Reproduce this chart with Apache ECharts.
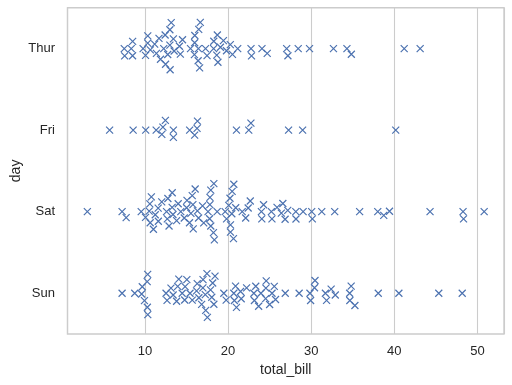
<!DOCTYPE html>
<html><head><meta charset="utf-8">
<script src="https://cdn.jsdelivr.net/npm/echarts@6/dist/echarts.min.js"></script>
<style>html,body{margin:0;padding:0;background:#fff}#c{width:512px;height:385px}</style>
</head><body><div id="c"></div>
<script>
// categories (y axis)
const days = ['Thur', 'Fri', 'Sat', 'Sun'];
// total_bill values per day
const thurBills = [27.20, 22.76, 17.29, 19.44, 16.66, 10.07, 32.68, 15.98, 34.83, 13.03, 18.28, 24.71, 21.16,
  10.65, 12.43, 24.08, 11.69, 13.42, 14.26, 15.95, 12.48, 29.80, 8.52, 14.52, 11.38, 22.82, 19.08, 20.27, 11.17,
  12.26, 18.26, 8.51, 10.33, 14.15, 16.00, 13.16, 17.47, 34.30, 41.19, 27.05, 16.43, 8.35, 18.64, 11.87, 9.78, 7.51,
  19.81, 28.44, 15.48, 16.58, 7.56, 10.34, 43.11, 13.00, 13.51, 18.71, 12.74, 13.00, 16.40, 20.53, 16.47, 18.78];
const friBills = [28.97, 22.49, 5.75, 16.32, 22.75, 40.17, 27.28, 12.03, 21.01, 12.46, 11.35, 15.38,
  12.16, 13.42, 8.58, 15.98, 13.42, 16.27, 10.09];
const satBills = [20.65, 17.92, 20.29, 15.77, 39.42, 19.82, 17.81, 13.37, 12.69, 21.70, 19.65, 9.55, 18.35, 15.06,
  20.69, 17.78, 24.06, 16.31, 16.93, 18.69, 31.27, 16.04,
  38.01, 26.41, 11.24, 48.27, 20.29, 13.81, 11.02, 18.29, 17.59, 20.08, 16.45, 3.07, 20.23, 15.01, 12.02, 17.07,
  26.86, 25.28, 14.73, 10.51, 17.92,
  44.30, 22.42, 20.92, 15.36, 20.49, 25.21, 18.24, 14.31, 14.00, 7.25,
  10.59, 10.63, 50.81, 15.81,
  26.59, 38.73, 24.27, 12.76, 30.06, 25.89, 48.33, 13.27, 28.17, 12.90, 28.15, 11.59, 7.74, 30.14,
  20.45, 13.28, 22.12, 24.01, 15.69, 11.61, 10.77, 15.53, 10.07, 12.60, 32.83, 35.83, 29.03, 27.18, 22.67, 17.82];
const sunBills = [16.99, 10.34, 21.01, 23.68, 24.59, 25.29, 8.77, 26.88, 15.04, 14.78, 10.27, 35.26, 15.42, 18.43,
  14.83, 21.58, 10.33, 16.29, 16.97,
  17.46, 13.94, 9.68, 30.40, 18.29, 22.23, 32.40, 28.55, 18.04, 12.54, 10.29, 34.81, 9.94, 25.56, 19.49,
  38.07, 23.95, 25.71, 17.31, 29.93,
  14.07, 13.13, 17.26, 24.55, 19.77, 29.85, 48.17, 25.00, 13.39, 16.49, 21.50, 12.66, 16.21, 13.81, 17.51, 24.52,
  20.76, 31.71,
  7.25, 31.85, 16.82, 32.90, 17.89, 14.48, 9.60, 34.63, 34.65, 23.33, 45.35, 23.17, 40.55, 20.69, 20.90, 30.46,
  18.15, 23.10, 15.69];
const billsByDay = [thurBills, friBills, satBills, sunBills];
const xTickLabels = [10, 20, 30, 40, 50];

const TEXT = '#262626', GRID = '#cccccc', BLUE = '#4C72B0';
const FONT = '"Liberation Sans", Arial, sans-serif';
const chart = echarts.init(document.getElementById('c'), null, {renderer: 'canvas'});

const base = {
  animation: false,
  backgroundColor: '#ffffff',
  grid: {left: 67.5, right: 8, top: 7.8, bottom: 51, show: true, borderColor: GRID, borderWidth: 1.4,
    backgroundColor: 'transparent', containLabel: false, outerBoundsMode: 'none'},
  xAxis: {
    type: 'value', min: 0.683, max: 53.197, minInterval: 10, maxInterval: 10,
    name: 'total_bill', nameLocation: 'middle', nameGap: 29.5, nameMoveOverlap: false,
    nameTextStyle: {color: TEXT, fontSize: 14, fontFamily: FONT},
    axisLine: {show: false}, axisTick: {show: false},
    axisLabel: {color: TEXT, fontSize: 13, fontFamily: FONT, margin: 11, showMinLabel: false, showMaxLabel: false,
      formatter: v => (xTickLabels.indexOf(Math.round(v)) >= 0 && Math.abs(v - Math.round(v)) < 1e-6) ? String(Math.round(v)) : ''},
    splitLine: {show: true, lineStyle: {color: GRID, width: 1.1}}
  },
  yAxis: [{
    type: 'category', data: days, inverse: true, boundaryGap: true,
    name: 'day', nameLocation: 'middle', nameGap: 44, nameMoveOverlap: false,
    nameTextStyle: {color: TEXT, fontSize: 14, fontFamily: FONT},
    axisLine: {show: false}, axisTick: {show: false}, splitLine: {show: false},
    axisLabel: {color: TEXT, fontSize: 13, fontFamily: FONT, margin: 12.5}
  }, {
    type: 'value', min: -0.5, max: 3.5, inverse: true, show: false, splitLine: {show: false}
  }],
  series: []
};
chart.setOption(base);

// swarm layout (seaborn Beeswarm algorithm) in pixel space
const R = 3.47;
function beeswarm(pts) {
  const mid = pts[0].u;
  const swarm = [pts[0]];
  for (let k = 1; k < pts.length; k++) {
    const p = pts[k];
    const neighbors = [];
    for (let j = swarm.length - 1; j >= 0; j--) {
      const q = swarm[j];
      if (p.v - q.v < p.r + q.r) neighbors.push(q); else break;
    }
    const cands = [{u: p.u}];
    let leftFirst = true;
    for (const q of neighbors) {
      const dy = p.v - q.v;
      const dx = Math.sqrt(Math.max((p.r + q.r) ** 2 - dy * dy, 0)) * 1.05;
      const cl = {u: q.u - dx}, cr = {u: q.u + dx};
      if (leftFirst) cands.push(cl, cr); else cands.push(cr, cl);
      leftFirst = !leftFirst;
    }
    cands.forEach((c, i) => { c.o = Math.abs(c.u - mid); c.i = i; });
    cands.sort((a, b) => (a.o - b.o) || (a.i - b.i));
    let chosen = cands[0];
    if (neighbors.length) {
      for (const c of cands) {
        let ok = true;
        for (const q of neighbors) {
          const du = q.u - c.u, dv = q.v - p.v;
          if (du * du + dv * dv < (q.r + p.r) ** 2) { ok = false; break; }
        }
        if (ok) { chosen = c; break; }
      }
    }
    swarm.push({u: chosen.u, v: p.v, r: p.r, idx: p.idx});
  }
  return swarm;
}

const y0 = chart.convertToPixel({yAxisIndex: 1}, 0);
const y1 = chart.convertToPixel({yAxisIndex: 1}, 1);
const pxPerUnit = y1 - y0;
const data = [];
billsByDay.forEach((vals, ci) => {
  const cy = chart.convertToPixel({yAxisIndex: 1}, ci);
  const pts = vals.map((v, i) => ({u: -cy, v: chart.convertToPixel({xAxisIndex: 0}, v), r: R, idx: i}));
  pts.sort((a, b) => (a.v - b.v) || (a.idx - b.idx));
  const placed = beeswarm(pts);
  placed.forEach(p => {
    let off = (-p.u - cy) / pxPerUnit;
    off = Math.max(-0.4, Math.min(0.4, off));
    data.push([vals[p.idx], ci + off]);
  });
});

chart.setOption({
  series: [{
    type: 'scatter', xAxisIndex: 0, yAxisIndex: 1, data: data,
    symbol: 'path://M0,0L10,10M10,0L0,10', symbolSize: 7,
    itemStyle: {color: 'rgba(0,0,0,0)', borderColor: BLUE, borderWidth: 1.2, opacity: 1},
    emphasis: {disabled: true}, silent: true
  }]
});
</script></body></html>
